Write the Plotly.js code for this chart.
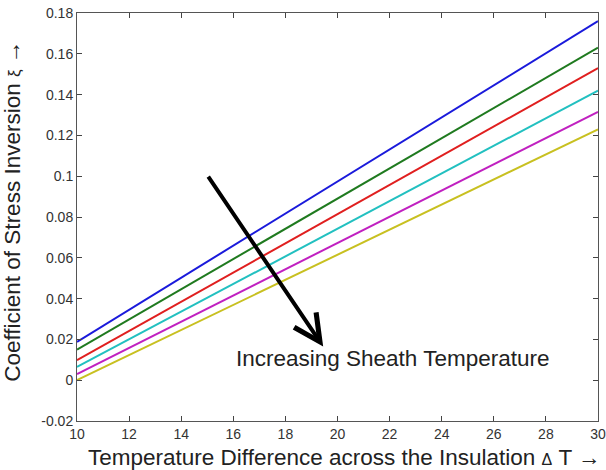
<!DOCTYPE html>
<html>
<head>
<meta charset="utf-8">
<script src="https://cdn.plot.ly/plotly-3.0.1.min.js"></script>
<style>html,body{margin:0;padding:0;background:#fff}#chart{width:606px;height:470px}</style>
</head>
<body>
<div id="chart"></div>
<script>
// Data (endpoints of straight lines)
var deltaT = [10, 30];
var series1 = [0.0188, 0.176];
var series2 = [0.0150, 0.163];
var series3 = [0.0098, 0.153];
var series4 = [0.0065, 0.142];
var series5 = [0.0030, 0.1315];
var series6 = [0.0000, 0.123];
var seriesColors = ['#1a1adb', '#1f7a1f', '#e01f1f', '#22c0c0', '#c020c0', '#c8c020'];
var xTicks = [10, 12, 14, 16, 18, 20, 22, 24, 26, 28, 30];
var yTicks = [-0.02, 0, 0.02, 0.04, 0.06, 0.08, 0.1, 0.12, 0.14, 0.16, 0.18];
var yTickText = ['-0.02', '0', '0.02', '0.04', '0.06', '0.08', '0.1', '0.12', '0.14', '0.16', '0.18'];
var arrowStart = [15, 0.1005];
var arrowEnd = [19.45, 0.0165];

var allSeries = [series1, series2, series3, series4, series5, series6];
var traces = allSeries.map(function (s, i) {
  return {x: deltaT, y: s, mode: 'lines', type: 'scatter',
          line: {color: seriesColors[i], width: 2}, showlegend: false, hoverinfo: 'skip'};
});

var font = 'Liberation Sans, Arial, sans-serif';
var layout = {
  width: 606, height: 470,
  margin: {l: 77, r: 8, t: 13, b: 49},
  paper_bgcolor: '#fff', plot_bgcolor: '#fff',
  showlegend: false,
  xaxis: {
    range: [10, 30], tickvals: xTicks, ticks: 'inside', ticklen: 5, tickcolor: '#444',
    showgrid: false, zeroline: false, showline: true, linecolor: '#555', linewidth: 1, mirror: 'ticks',
    tickfont: {family: font, size: 14, color: '#333'},
    automargin: false
  },
  yaxis: {
    range: [-0.02, 0.18], tickvals: yTicks, ticktext: yTickText, ticks: 'inside', ticklen: 5, tickcolor: '#444',
    showgrid: false, zeroline: false, showline: true, linecolor: '#555', linewidth: 1, mirror: 'ticks',
    tickfont: {family: font, size: 14, color: '#333'},
    automargin: false
  },
  annotations: [
    {x: arrowEnd[0], y: arrowEnd[1], ax: arrowStart[0], ay: arrowStart[1], xref: 'x', yref: 'y', axref: 'x', ayref: 'y',
     text: '', showarrow: true, arrowhead: 5, arrowsize: 1.3, arrowwidth: 4, arrowcolor: '#000'},
    {x: 16.03, y: 0.0105, xref: 'x', yref: 'y', xanchor: 'left', yanchor: 'middle', showarrow: false,
     text: 'Increasing Sheath Temperature', font: {family: font, size: 22.5, color: '#222'}},
    {x: 0.514, y: -0.09, xref: 'paper', yref: 'paper', xanchor: 'center', yanchor: 'middle', showarrow: false,
     text: 'Temperature Difference across the Insulation <span style="font-size:16px">\u0394</span> T \u2192',
     font: {family: font, size: 22.5, color: '#222'}},
    {x: -0.123, y: 0.515, xref: 'paper', yref: 'paper', xanchor: 'center', yanchor: 'middle', showarrow: false, textangle: -90,
     text: 'Coefficient of Stress Inversion <span style="font-size:17px">\u03be</span> \u2192',
     font: {family: font, size: 22.5, color: '#222'}}
  ]
};
Plotly.newPlot('chart', traces, layout, {staticPlot: true, displayModeBar: false});
</script>
</body>
</html>
